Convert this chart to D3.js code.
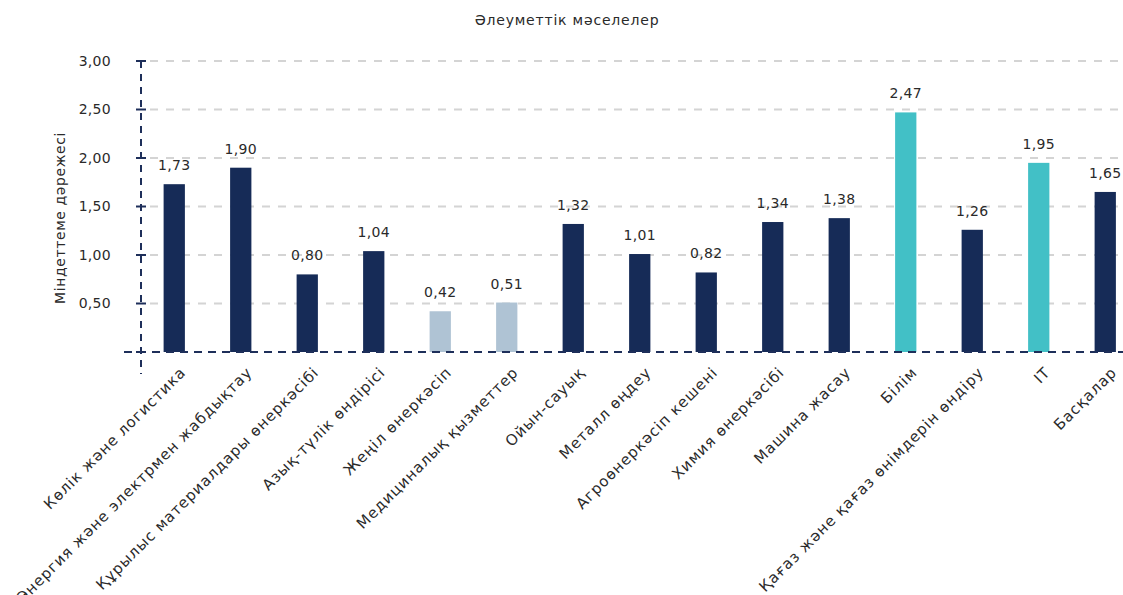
<!DOCTYPE html>
<html>
<head>
<meta charset="utf-8">
<script src="https://cdn.jsdelivr.net/npm/d3@7"></script>
<style>
  body { margin: 0; background: #fff; }
  svg { display: block; font-family: "DejaVu Sans", sans-serif; }
</style>
</head>
<body>
<svg id="chart"></svg>
<script>
const categories = [
  "Көлік және логистика",
  "Энергия және электрмен жабдықтау",
  "Құрылыс материалдары өнеркәсібі",
  "Азық-түлік өндірісі",
  "Жеңіл өнеркәсіп",
  "Медициналық қызметтер",
  "Ойын-сауық",
  "Металл өңдеу",
  "Агроөнеркәсіп кешені",
  "Химия өнеркәсібі",
  "Машина жасау",
  "Білім",
  "Қағаз және қағаз өнімдерін өндіру",
  "IT",
  "Басқалар"
];
const values = [1.73, 1.90, 0.80, 1.04, 0.42, 0.51, 1.32, 1.01, 0.82, 1.34, 1.38, 2.47, 1.26, 1.95, 1.65];
// 0 = dark, 1 = light, 2 = teal
const groups = [0, 0, 0, 0, 1, 1, 0, 0, 0, 0, 0, 2, 0, 2, 0];
const yTicks = [0.5, 1, 1.5, 2, 2.5, 3];
const title = "Әлеуметтік мәселелер";
const yTitle = "Міндеттеме дәрежесі";

const width = 1123, height = 595;
const colors = ["#162b57", "#afc3d4", "#42c0c6"];
const axisColor = "#1e2f5a";
const textColor = "#2a2a2a";

const svg = d3.select("#chart")
  .attr("width", width)
  .attr("height", height);

const x = d3.scaleBand()
  .domain(categories)
  .range([141, 1138.5])
  .paddingInner(0.68)
  .paddingOuter(0.34);

const y = d3.scaleLinear()
  .domain([0, 3])
  .range([352, 61]);

// title
svg.append("text")
  .attr("x", 567)
  .attr("y", 25)
  .attr("text-anchor", "middle")
  .attr("font-size", 14)
  .attr("letter-spacing", 0.8)
  .attr("fill", textColor)
  .text(title);

// gridlines
svg.append("g")
  .selectAll("line")
  .data(yTicks)
  .join("line")
  .attr("x1", 150)
  .attr("x2", width)
  .attr("y1", d => y(d))
  .attr("y2", d => y(d))
  .attr("stroke", "#d4d4d4")
  .attr("stroke-width", 2)
  .attr("stroke-dasharray", "8,8");

// bars
svg.append("g")
  .selectAll("rect")
  .data(values)
  .join("rect")
  .attr("x", (d, i) => x(categories[i]))
  .attr("width", x.bandwidth())
  .attr("y", d => y(d))
  .attr("height", d => y(0) - y(d))
  .attr("fill", (d, i) => colors[groups[i]]);

// value labels
svg.append("g")
  .selectAll("text")
  .data(values)
  .join("text")
  .attr("x", (d, i) => x(categories[i]) + x.bandwidth() / 2)
  .attr("y", d => y(d) - 14)
  .attr("text-anchor", "middle")
  .attr("font-size", 14)
  .attr("letter-spacing", 0.3)
  .attr("fill", textColor)
  .text(d => d.toFixed(2).replace(".", ","));

// zero line
svg.append("line")
  .attr("x1", 124)
  .attr("x2", width)
  .attr("y1", y(0))
  .attr("y2", y(0))
  .attr("stroke", axisColor)
  .attr("stroke-width", 2)
  .attr("stroke-dasharray", "8,6");

// y axis dashed line
svg.append("line")
  .attr("x1", 141)
  .attr("x2", 141)
  .attr("y1", y(3))
  .attr("y2", 374)
  .attr("stroke", axisColor)
  .attr("stroke-width", 2)
  .attr("stroke-dasharray", "7,6");

// y ticks
const yAxis = svg.append("g");
yAxis.selectAll("line")
  .data([0].concat(yTicks))
  .join("line")
  .attr("x1", 136)
  .attr("x2", 146)
  .attr("y1", d => y(d))
  .attr("y2", d => y(d))
  .attr("stroke", axisColor)
  .attr("stroke-width", 2);

yAxis.selectAll("text")
  .data(yTicks)
  .join("text")
  .attr("x", 111)
  .attr("y", d => y(d))
  .attr("dy", "0.35em")
  .attr("text-anchor", "end")
  .attr("font-size", 14)
  .attr("letter-spacing", 0.3)
  .attr("fill", textColor)
  .text(d => d.toFixed(2).replace(".", ","));

// y title
svg.append("text")
  .attr("transform", "translate(65, 218) rotate(-90)")
  .attr("text-anchor", "middle")
  .attr("font-size", 14)
  .attr("letter-spacing", 0.6)
  .attr("fill", textColor)
  .text(yTitle);

// category labels
svg.append("g")
  .selectAll("text")
  .data(categories)
  .join("text")
  .attr("transform", d => `translate(${x(d) + x.bandwidth() / 2 + 5}, 366) rotate(-45)`)
  .attr("text-anchor", "end")
  .attr("dy", "0.7em")
  .attr("font-size", 15)
  .attr("letter-spacing", 0.9)
  .attr("fill", textColor)
  .text(d => d);
</script>
</body>
</html>
